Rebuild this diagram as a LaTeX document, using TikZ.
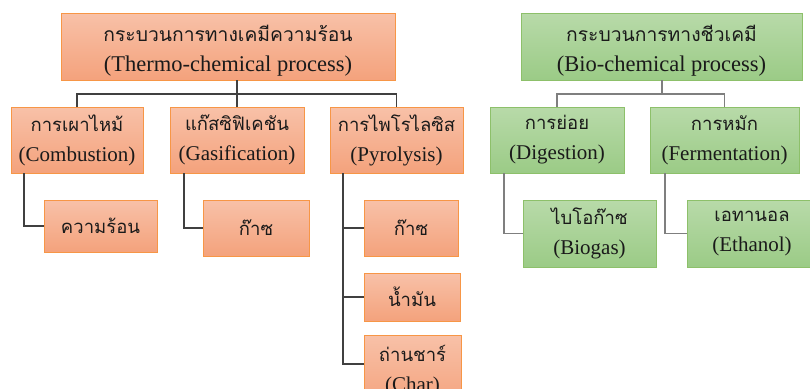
\documentclass[tikz,border=0pt]{standalone}
\usepackage{fontspec}
\setmainfont{Liberation Serif}
\newfontfamily\thaifont[Script=Thai]{Loma}
\newcommand{\thaitxt}[1]{{\thaifont\fontsize{18.5}{30}\selectfont #1}}
\newcommand{\thaitop}[1]{{\thaifont\fontsize{19.3}{30}\selectfont #1}}
\newcommand{\lowertxt}[1]{\raisebox{-4pt}[\height][\depth]{#1}}
\definecolor{oBorder}{HTML}{F79646}
\definecolor{oTop}{HTML}{F8C1A8}
\definecolor{oBot}{HTML}{F4A27C}
\definecolor{gBorder}{HTML}{8DC06A}
\definecolor{gTop}{HTML}{B8DAA9}
\definecolor{gBot}{HTML}{9BCB86}
\definecolor{txt}{HTML}{1A1A1A}
\definecolor{lineT}{HTML}{404040}
\definecolor{lineB}{HTML}{7F7F7F}
\tikzset{
  base/.style={text=txt, align=center, inner sep=0pt, line width=0.9pt,
    font=\fontsize{21}{30}\selectfont},
  topfont/.style={font=\fontsize{22.5}{30}\selectfont},
  obox/.style={base, draw=oBorder, top color=oTop, bottom color=oBot},
  gbox/.style={base, draw=gBorder, top color=gTop, bottom color=gBot},
  tline/.style={draw=lineT, line width=1.2pt},
  bline/.style={draw=lineB, line width=1.2pt},
}
\begin{document}
\begin{tikzpicture}[x=1pt,y=-1pt]
\useasboundingbox (0,0) rectangle (810,388);
% level 1
\node[obox, topfont, minimum width=334, minimum height=67] (T) at (228,46.5)
  {\lowertxt{\begin{tabular}{@{}c@{}}\thaitop{กระบวนการทางเคมีความร้อน}\\(Thermo-chemical process)\end{tabular}}};
\node[gbox, topfont, minimum width=281, minimum height=67] (B) at (661.5,46.5)
  {\lowertxt{\begin{tabular}{@{}c@{}}\thaitop{กระบวนการทางชีวเคมี}\\(Bio-chemical process)\end{tabular}}};
% level 2
\node[obox, minimum width=132, minimum height=66] (C1) at (77,140)
  {\thaitxt{การเผาไหม้}\\(Combustion)};
\node[obox, minimum width=134, minimum height=66] (C2) at (237,140)
  {\thaitxt{แก๊สซิฟิเคชัน}\\(Gasification)};
\node[obox, minimum width=133, minimum height=66] (C3) at (396.5,140)
  {\thaitxt{การไพโรไลซิส}\\(Pyrolysis)};
\node[gbox, minimum width=134, minimum height=66] (D1) at (557,140)
  {\thaitxt{การย่อย}\\(Digestion)};
\node[gbox, minimum width=149, minimum height=66] (D2) at (724.5,140)
  {\thaitxt{การหมัก}\\(Fermentation)};
% level 3
\node[obox, minimum width=113, minimum height=52] (L1) at (100.5,226)
  {\thaitxt{ความร้อน}};
\node[obox, minimum width=106, minimum height=56] (L2) at (256,228)
  {\thaitxt{ก๊าซ}};
\node[obox, minimum width=94, minimum height=56] (P1) at (411,228)
  {\thaitxt{ก๊าซ}};
\node[obox, minimum width=96, minimum height=48] (P2) at (412,297)
  {\thaitxt{น้ำมัน}};
\node[obox, minimum width=97, minimum height=72] (P3) at (412.5,371)
  {\thaitxt{ถ่านชาร์}\\(Char)};
\node[gbox, minimum width=133, minimum height=67] (E1) at (589.5,233.5)
  {\thaitxt{ไบโอก๊าซ}\\(Biogas)};
\node[gbox, minimum width=130, minimum height=67] (E2) at (752,233.5)
  {\thaitxt{เอทานอล}\\(Ethanol)};
% connectors, thermo
\coordinate (tj) at (238,94);
\draw[tline] (C1.north) |- (tj) -| (C3.north);
\draw[tline] (T.south -| C2.north) -- (C2.north);
\coordinate (v1) at (24,173);
\coordinate (v2) at (184,173);
\coordinate (v3) at (343,173);
\draw[tline] (v1) |- (L1.west);
\draw[tline] (v2) |- (L2.west);
\draw[tline] (v3) |- ([yshift=7pt]P3.west);
\draw[tline] (v3 |- P1.west) -- (P1.west);
\draw[tline] (v3 |- P2.west) -- (P2.west);
% connectors, bio
\coordinate (bj) at (662,94);
\draw[bline] (D1.north) |- (bj) -| (D2.north);
\draw[bline] (B.south -| bj) -- (bj);
\coordinate (w1) at (504,173);
\coordinate (w2) at (665,173);
\draw[bline] (w1) |- (E1.west);
\draw[bline] (w2) |- (E2.west);
\end{tikzpicture}
\end{document}
